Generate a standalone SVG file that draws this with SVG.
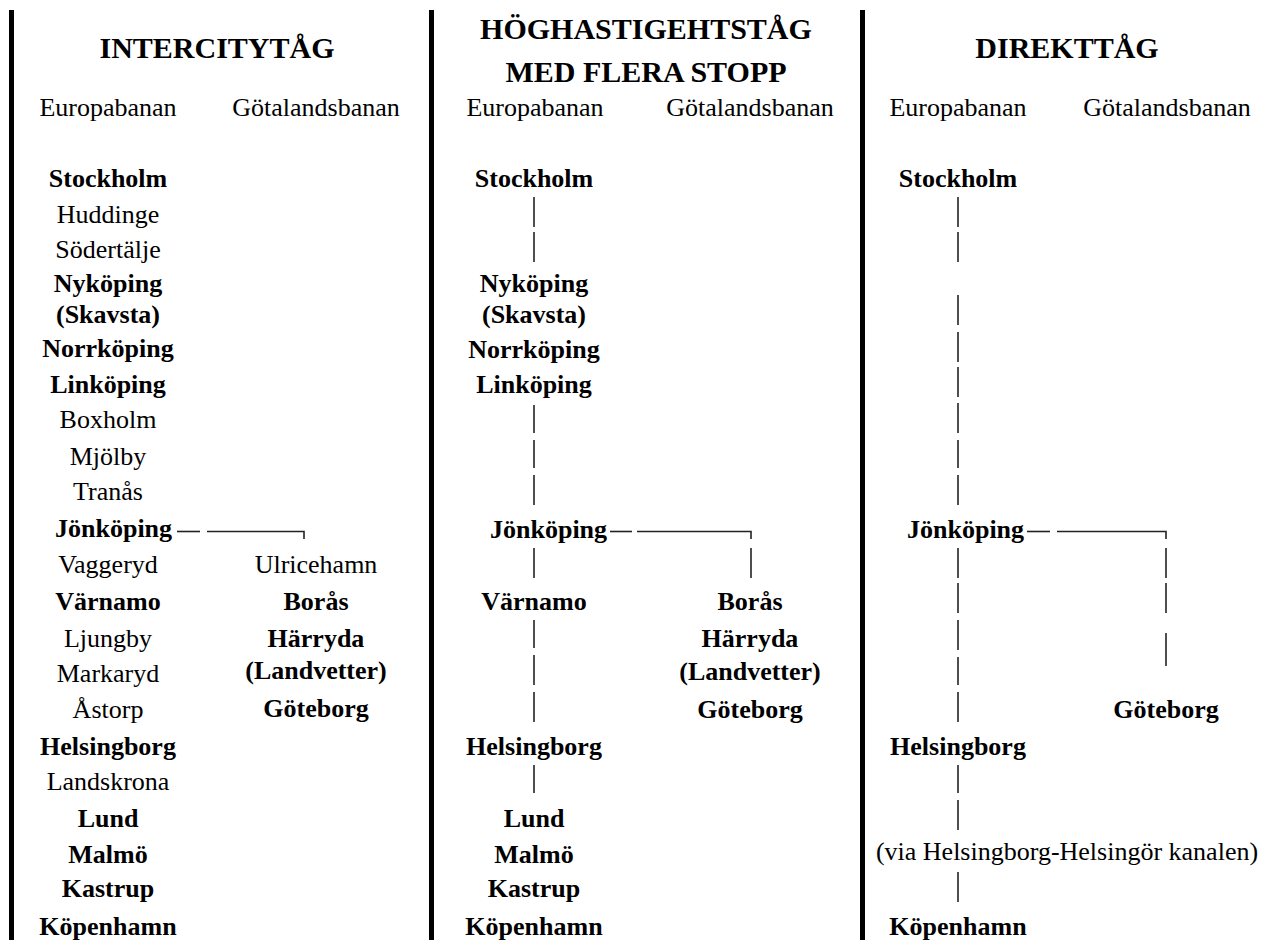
<svg xmlns="http://www.w3.org/2000/svg" width="1270" height="940" viewBox="0 0 1270 940">
<style>
text{font-family:"Liberation Serif","Times New Roman",serif;fill:#000;text-anchor:middle}
.t{font-size:30px;font-weight:bold}
.b{font-size:26px;font-weight:bold}
.r{font-size:26px}
.s{text-anchor:start}
.c line,.c path{stroke:#222;stroke-width:1.6;fill:none}
.sep{fill:#000}
</style>
<rect width="1270" height="940" fill="#fff"/>
<g id="separators">
<rect class="sep" x="9" y="10" width="5" height="930"/>
<rect class="sep" x="429" y="10" width="5" height="930"/>
<rect class="sep" x="860" y="10" width="5" height="930"/>
</g>
<g id="headers">
<g id="h1"><text class="t" x="217" y="58">INTERCITYTÅG</text></g>
<g id="h2"><text class="t" x="646" y="39">HÖGHASTIGEHTSTÅG</text><text class="t" x="646" y="82">MED FLERA STOPP</text></g>
<g id="h3"><text class="t" x="1067" y="58">DIREKTTÅG</text></g>
<g id="sub1"><text class="r" x="108" y="116">Europabanan</text><text class="r" x="316" y="116">Götalandsbanan</text></g>
<g id="sub2"><text class="r" x="535" y="116">Europabanan</text><text class="r" x="750" y="116">Götalandsbanan</text></g>
<g id="sub3"><text class="r" x="958" y="116">Europabanan</text><text class="r" x="1167" y="116">Götalandsbanan</text></g>
</g>
<g id="col1">
<g id="c1-stockholm"><text class="b" x="108" y="187">Stockholm</text></g>
<g id="c1-huddinge"><text class="r" x="108" y="223">Huddinge</text></g>
<g id="c1-sodertalje"><text class="r" x="108" y="258">Södertälje</text></g>
<g id="c1-nykoping"><text class="b" x="108" y="292">Nyköping</text><text class="b" x="108" y="323">(Skavsta)</text></g>
<g id="c1-norrkoping"><text class="b" x="108" y="357">Norrköping</text></g>
<g id="c1-linkoping"><text class="b" x="108" y="393">Linköping</text></g>
<g id="c1-boxholm"><text class="r" x="108" y="428">Boxholm</text></g>
<g id="c1-mjolby"><text class="r" x="108" y="465">Mjölby</text></g>
<g id="c1-tranas"><text class="r" x="108" y="500">Tranås</text></g>
<g id="c1-jonkoping"><text class="b s" x="55" y="537">Jönköping</text></g>
<g id="c1-vaggeryd"><text class="r" x="108" y="573">Vaggeryd</text></g>
<g id="c1-ulricehamn"><text class="r" x="316" y="573">Ulricehamn</text></g>
<g id="c1-varnamo"><text class="b" x="108" y="610">Värnamo</text></g>
<g id="c1-boras"><text class="b" x="316" y="610">Borås</text></g>
<g id="c1-ljungby"><text class="r" x="108" y="647">Ljungby</text></g>
<g id="c1-harryda"><text class="b" x="316" y="647">Härryda</text><text class="b" x="316" y="679">(Landvetter)</text></g>
<g id="c1-markaryd"><text class="r" x="108" y="682">Markaryd</text></g>
<g id="c1-astorp"><text class="r" x="108" y="718">Åstorp</text></g>
<g id="c1-goteborg"><text class="b" x="316" y="717">Göteborg</text></g>
<g id="c1-helsingborg"><text class="b" x="108" y="755">Helsingborg</text></g>
<g id="c1-landskrona"><text class="r" x="108" y="790">Landskrona</text></g>
<g id="c1-lund"><text class="b" x="108" y="827">Lund</text></g>
<g id="c1-malmo"><text class="b" x="108" y="863">Malmö</text></g>
<g id="c1-kastrup"><text class="b" x="108" y="897">Kastrup</text></g>
<g id="c1-kopenhamn"><text class="b" x="108" y="935">Köpenhamn</text></g>
</g>
<g id="col2">
<g id="c2-stockholm"><text class="b" x="534" y="187">Stockholm</text></g>
<g id="c2-nykoping"><text class="b" x="534" y="292">Nyköping</text><text class="b" x="534" y="323">(Skavsta)</text></g>
<g id="c2-norrkoping"><text class="b" x="534" y="358">Norrköping</text></g>
<g id="c2-linkoping"><text class="b" x="534" y="393">Linköping</text></g>
<g id="c2-jonkoping"><text class="b s" x="490" y="538">Jönköping</text></g>
<g id="c2-varnamo"><text class="b" x="534" y="610">Värnamo</text></g>
<g id="c2-boras"><text class="b" x="750" y="610">Borås</text></g>
<g id="c2-harryda"><text class="b" x="750" y="647">Härryda</text><text class="b" x="750" y="680">(Landvetter)</text></g>
<g id="c2-goteborg"><text class="b" x="750" y="718">Göteborg</text></g>
<g id="c2-helsingborg"><text class="b" x="534" y="755">Helsingborg</text></g>
<g id="c2-lund"><text class="b" x="534" y="827">Lund</text></g>
<g id="c2-malmo"><text class="b" x="534" y="863">Malmö</text></g>
<g id="c2-kastrup"><text class="b" x="534" y="897">Kastrup</text></g>
<g id="c2-kopenhamn"><text class="b" x="534" y="935">Köpenhamn</text></g>
</g>
<g id="col3">
<g id="c3-stockholm"><text class="b" x="958" y="187">Stockholm</text></g>
<g id="c3-jonkoping"><text class="b s" x="907" y="538">Jönköping</text></g>
<g id="c3-goteborg"><text class="b" x="1166" y="718">Göteborg</text></g>
<g id="c3-helsingborg"><text class="b" x="958" y="755">Helsingborg</text></g>
<g id="c3-via"><text class="r" x="1067" y="860">(via Helsingborg-Helsingör kanalen)</text></g>
<g id="c3-kopenhamn"><text class="b" x="958" y="935">Köpenhamn</text></g>
</g>
<g id="connectors" class="c">
<line x1="177" y1="531.5" x2="200" y2="531.5"/>
<line x1="207" y1="531.5" x2="287" y2="531.5"/>
<path d="M287 531.5 H304 V539"/>
<line x1="534" y1="197" x2="534" y2="227"/>
<line x1="534" y1="232" x2="534" y2="262"/>
<line x1="534" y1="405" x2="534" y2="433"/>
<line x1="534" y1="440" x2="534" y2="468"/>
<line x1="534" y1="475" x2="534" y2="505"/>
<line x1="534" y1="548" x2="534" y2="578"/>
<line x1="534" y1="620" x2="534" y2="648"/>
<line x1="534" y1="655" x2="534" y2="685"/>
<line x1="534" y1="692" x2="534" y2="722"/>
<line x1="534" y1="765" x2="534" y2="793"/>
<line x1="610" y1="531.5" x2="632" y2="531.5"/>
<line x1="637" y1="531.5" x2="733" y2="531.5"/>
<path d="M733 531.5 H751 V539"/>
<line x1="751" y1="548" x2="751" y2="578"/>
<line x1="958" y1="197" x2="958" y2="227"/>
<line x1="958" y1="232" x2="958" y2="262"/>
<line x1="958" y1="295" x2="958" y2="325"/>
<line x1="958" y1="332" x2="958" y2="362"/>
<line x1="958" y1="367" x2="958" y2="397"/>
<line x1="958" y1="403" x2="958" y2="433"/>
<line x1="958" y1="440" x2="958" y2="468"/>
<line x1="958" y1="475" x2="958" y2="505"/>
<line x1="958" y1="548" x2="958" y2="578"/>
<line x1="958" y1="583" x2="958" y2="613"/>
<line x1="958" y1="620" x2="958" y2="650"/>
<line x1="958" y1="657" x2="958" y2="685"/>
<line x1="958" y1="692" x2="958" y2="722"/>
<line x1="958" y1="765" x2="958" y2="793"/>
<line x1="958" y1="800" x2="958" y2="830"/>
<line x1="958" y1="872" x2="958" y2="902"/>
<line x1="1027" y1="531.5" x2="1050" y2="531.5"/>
<line x1="1057" y1="531.5" x2="1148" y2="531.5"/>
<path d="M1148 531.5 H1166 V539"/>
<line x1="1166" y1="548" x2="1166" y2="578"/>
<line x1="1166" y1="583" x2="1166" y2="613"/>
<line x1="1166" y1="633" x2="1166" y2="666"/>
</g>
</svg>
